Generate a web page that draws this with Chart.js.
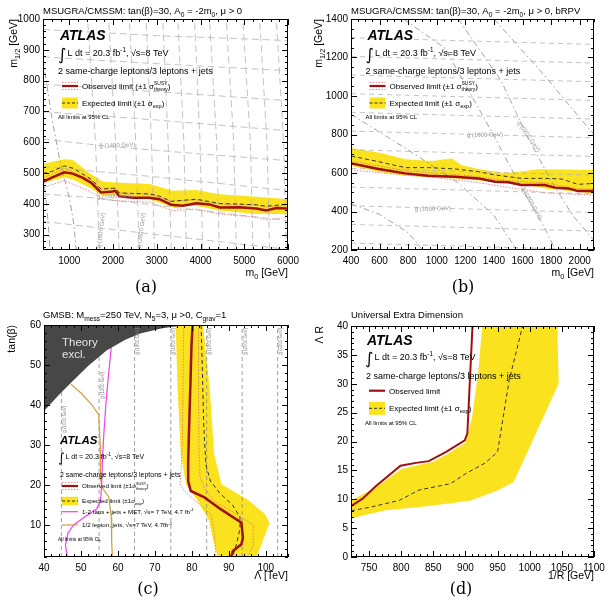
<!DOCTYPE html>
<html>
<head>
<meta charset="utf-8">
<script src="https://cdn.jsdelivr.net/npm/chart.js@4/dist/chart.umd.min.js"></script>
<style>
  body { margin: 0; background: #fff; width: 611px; height: 607px; position: relative; overflow: hidden; }
  canvas { position: absolute; }
  .cap { position: absolute; font: 16px "DejaVu Serif", serif; transform: translate(-50%, -50%); color: #000; }
</style>
</head>
<body>
<canvas id="ca" width="305" height="300" style="left:0;top:0;width:305px;height:300px"></canvas>
<canvas id="cb" width="306" height="300" style="left:305px;top:0;width:306px;height:300px"></canvas>
<canvas id="cc" width="305" height="307" style="left:0;top:300px;width:305px;height:307px"></canvas>
<canvas id="cd" width="306" height="307" style="left:305px;top:300px;width:306px;height:307px"></canvas>
<div class="cap" style="left:146px;top:286px">(a)</div>
<div class="cap" style="left:463px;top:286px">(b)</div>
<div class="cap" style="left:148px;top:588px">(c)</div>
<div class="cap" style="left:461px;top:588px">(d)</div>
<script>
// ---------- (a) MSUGRA/CMSSM ----------
const aTicksX = [1000, 2000, 3000, 4000, 5000, 6000];
const aTicksY = [300, 400, 500, 600, 700, 800, 900, 1000];
const aObsM0 = [400, 600, 885, 1076, 1300, 1497, 1726, 1992, 2053, 2145, 2450, 2832, 3061, 3329, 3596, 3901, 4206, 4435, 4893, 5275, 5504, 5733, 6000];
const aObsM12 = [471, 485, 502, 498, 485, 469, 437, 440, 442, 424, 420, 420, 415, 397, 394, 402, 398, 388, 389, 385, 378, 386, 385];
const aExpM0 = [400, 600, 885, 1100, 1497, 1726, 1992, 2053, 2145, 2832, 3061, 3329, 3901, 4435, 5275, 5504, 6000];
const aExpM12 = [498, 505, 523, 515, 480, 448, 450, 451, 435, 432, 425, 408, 415, 401, 397, 392, 399];
const aBandM0 = [400, 885, 1076, 1458, 1763, 2069, 2832, 3366, 3901, 4435, 5275, 6000];
const aBandHi = [530, 545, 543, 500, 472, 469, 464, 442, 445, 431, 423, 415];
const aBandLo = [468, 485, 480, 453, 426, 426, 415, 389, 394, 378, 367, 367];
const aThUpM0 = [400, 885, 1458, 1726, 1992, 2145, 2832, 3329, 3901, 4435, 5275, 5504, 6000];
const aThUpM12 = [484, 514, 481, 448, 452, 436, 431, 408, 413, 399, 396, 389, 396];
const aThDnM0 = [400, 885, 1458, 1763, 2069, 2832, 3366, 3901, 4435, 5275, 5504, 6000];
const aThDnM12 = [453, 475, 442, 415, 410, 405, 378, 383, 367, 356, 348, 356];
// gluino / squark mass contours [m0, m12]
const aGluino = [
  [[400, 343], [3000, 300], [6000, 252]],
  [[400, 432], [1500, 420], [3000, 395], [6000, 345]],
  [[400, 521], [3000, 487], [6000, 443]],
  [[400, 610], [2000, 585], [4000, 562], [6000, 540]],
  [[400, 699], [3000, 672], [6000, 637]],
  [[400, 788], [3000, 764], [6000, 735]],
  [[400, 877], [3000, 855], [6000, 832]],
  [[400, 966], [3000, 946], [6000, 930]]
];
const aSquark = [
  [[1690, 250], [1600, 600], [1420, 1000]],
  [[2140, 250], [2060, 600], [1900, 1000]],
  [[2600, 250], [2520, 600], [2374, 1000]],
  [[2950, 250], [2880, 600], [2756, 1000]],
  [[3330, 250], [3260, 600], [3137, 1000]],
  [[3680, 250], [3620, 600], [3480, 1000]],
  [[4050, 250], [3990, 600], [3862, 1000]],
  [[4430, 250], [4370, 600], [4206, 1000]],
  [[4820, 250], [4760, 600], [4588, 1000]],
  [[5200, 250], [5140, 600], [4968, 1000]],
  [[5580, 250], [5520, 600], [5351, 1000]],
  [[5960, 250], [5900, 600], [5733, 1000]]
];
const aCurves = [
  [[400, 870], [600, 680], [800, 530], [1000, 420], [1100, 340], [1160, 250]],
  [[400, 500], [480, 400], [540, 300], [560, 250]]
];

// ---------- (b) MSUGRA/CMSSM bRPV ----------
const bTicksX = [400, 600, 800, 1000, 1200, 1400, 1600, 1800, 2000];
const bTicksY = [200, 400, 600, 800, 1000, 1200, 1400];
const bObsM0 = [402, 593, 779, 942, 1128, 1291, 1407, 1500, 1593, 1756, 1826, 1919, 1988, 2100];
const bObsM12 = [650, 621, 598, 586, 581, 572, 555, 552, 538, 538, 524, 520, 506, 506];
const bExpM0 = [402, 593, 779, 942, 1128, 1291, 1407, 1593, 1756, 1872, 1988, 2100];
const bExpM12 = [688, 659, 628, 628, 621, 607, 590, 572, 572, 569, 541, 546];
const bBandHiM0 = [400, 600, 780, 965, 1105, 1175, 1300, 1477, 1593, 1709, 1900, 2100];
const bBandHi = [730, 705, 672, 662, 675, 640, 620, 600, 608, 620, 618, 615];
const bBandLoM0 = [400, 593, 779, 1128, 1407, 1593, 1756, 1988, 2100];
const bBandLo = [638, 607, 586, 572, 555, 546, 520, 503, 494];
const bThUpM0 = [400, 800, 1200, 1500, 1760, 2000, 2100];
const bThUpM12 = [662, 610, 588, 560, 548, 516, 516];
const bThDnM0 = [400, 700, 1000, 1291, 1500, 1760, 2000, 2100];
const bThDnM12 = [616, 595, 575, 550, 525, 497, 488, 486];
const bGluino = [
  [[400, 236], [2100, 201]], [[400, 333], [2100, 298]], [[400, 430], [2100, 395]],
  [[400, 527], [2100, 492]], [[400, 624], [2100, 589]], [[400, 721], [2100, 686]],
  [[400, 818], [2100, 783]], [[400, 915], [2100, 880]], [[400, 1012], [2100, 977]],
  [[400, 1109], [2100, 1074]], [[400, 1206], [2100, 1171]], [[400, 1303], [2100, 1268]]
];
const bCurves = [
  [[400, 440], [600, 385], [800, 290], [900, 200]],
  [[400, 905], [800, 720], [1150, 548], [1400, 380], [1560, 200]],
  [[767, 1400], [1058, 1248], [1384, 815], [1569, 555], [1756, 313], [1830, 200]],
  [[1150, 1400], [1450, 1080], [1640, 780], [1800, 560], [1950, 380], [2100, 250]],
  [[1400, 1400], [1750, 1110], [1940, 940], [2100, 800]]
];

// ---------- (c) GMSB ----------
const cTicksX = [40, 50, 60, 70, 80, 90, 100];
const cTicksY = [10, 20, 30, 40, 50, 60];
const cObsLam = [80.2, 79.9, 79.6, 79.3, 79.0, 79.0, 79.7, 83.4, 87.9, 93.4, 93.8, 93.4, 91.1, 90.6];
const cObsTan = [60, 55, 45, 36, 26, 21, 18.5, 16.9, 13.9, 10.6, 6.8, 5.2, 3.5, 2];
const cExpLam = [82.5, 82.8, 83.2, 83.8, 85, 87.5, 91, 93, 93, 92, 91];
const cExpTan = [60, 50, 35, 25, 21, 18, 15, 12, 9, 5, 2];
const cThUpLam = [81.8, 81.8, 81.9, 82.2, 83.5, 86, 92.5, 96.6, 96.6, 95.2];
const cThUpTan = [60, 45, 30, 22, 19, 16, 12.5, 10, 5, 2];
const cThDnLam = [77.8, 77.6, 77.4, 77.0, 76.8, 78.8, 85.2, 86.1, 86.5];
const cThDnTan = [60, 45, 30, 22, 20, 17.7, 12.7, 7.7, 2];
const cBandLLam = [75.6, 76.1, 77.0, 78.4, 81.6, 84.7, 85.6, 87.0];
const cBandLTan = [60, 44.5, 27.8, 20.2, 16, 11, 6.8, 2];
const cBandRLam = [83.0, 84.8, 86.0, 88.0, 95.0, 99.7, 101.0, 99.5, 97.5];
const cBandRTan = [60, 44.5, 27.8, 20.2, 16.4, 12.8, 10.5, 6.8, 2];
const cTheoryLam = [40, 44, 48, 52, 57, 62, 66, 72, 78.5];
const cTheoryTan = [38.5, 42.5, 46.2, 49.8, 53.7, 56.3, 57.9, 59.2, 60];
const cTauLam = [58.2, 57.5, 56.8, 56.2, 55.8, 55.6, 55.3, 54.2, 51, 48, 46.5, 45.8, 46.3];
const cTauTan = [54.5, 48, 41, 33, 26, 20, 16, 14, 12, 10, 8, 5, 2];
const cLepLam = [47.3, 50, 53, 54.8, 55.2, 55.3, 55.6, 57.5, 58.2, 58.3, 58.5];
const cLepTan = [45.2, 43, 40, 37.5, 30, 22, 19.5, 17, 12, 6, 2];
const cGluinoLam = [44.7, 54.9, 64.5, 74.3, 84.0, 93.6, 103.2];
const cGluinoMass = [1000, 1200, 1400, 1600, 1800, 2000, 2200];

// ---------- (d) UED ----------
const dTicksX = [750, 800, 850, 900, 950, 1000, 1050, 1100];
const dTicksY = [0, 5, 10, 15, 20, 25, 30, 35, 40];
const dObsX = [722, 740, 760, 799, 823, 843, 870, 899, 903, 911];
const dObsY = [8.8, 10.1, 12.2, 15.8, 16.3, 16.6, 18.2, 20.2, 21.4, 40];
const dExpX = [722, 755, 797, 828, 877, 900, 931, 950, 968, 989];
const dExpY = [8.0, 8.7, 9.8, 11.6, 12.7, 14.4, 16.3, 18.2, 30.6, 40];
const dBandUpX = [722, 760, 800, 830, 850, 875, 900, 910, 920, 926];
const dBandUpY = [9.8, 12, 15.2, 16, 16.5, 18, 19.8, 24, 32, 40];
const dBandLoX = [722, 776, 833, 877, 908, 950, 975, 1012, 1045, 1043];
const dBandLoY = [6.7, 8.1, 8.7, 9.3, 9.8, 11.5, 13, 22, 30, 40];

// ---------- colours ----------
const YELLOW = '#fbe21f', RED = '#a01010', PINK = '#e07070', GREY = '#b4b4b4', GREYD = '#8a8a8a';
const MAGENTA = '#f040f0', ORANGE = '#d0a040', THEORY = '#474747';
const FONT = 'Liberation Sans';

const pts = (xs, ys) => xs.map((x, i) => ({ x, y: ys[i] }));
const pairs = arr => arr.map(p => ({ x: p[0], y: p[1] }));
const line = (data, color, width, dash, order) =>
  ({ data, showLine: true, borderColor: color, borderWidth: width, borderDash: dash || [], pointRadius: 0, fill: false, order });
const poly = (data, color, order) =>
  ({ data, showLine: true, borderWidth: 0, borderColor: 'rgba(0,0,0,0)', backgroundColor: color, fill: 'shape', pointRadius: 0, order });

// tiny rich-text: _{sub} ^{sup} ^_{sup|sub}
function parseRich(s) {
  const out = []; let i = 0, buf = '';
  while (i < s.length) {
    let k = null;
    if (s.startsWith('^_{', i)) { k = 'ss'; i += 3; }
    else if (s.startsWith('_{', i)) { k = 'sub'; i += 2; }
    else if (s.startsWith('^{', i)) { k = 'sup'; i += 2; }
    if (k) {
      if (buf) { out.push(['n', buf]); buf = ''; }
      const j = s.indexOf('}', i);
      out.push([k, s.slice(i, j)]); i = j + 1;
    } else buf += s[i++];
  }
  if (buf) out.push(['n', buf]);
  return out;
}
function richText(ctx, s, x, y, size, opt) {
  opt = opt || {};
  const fam = opt.family || FONT, wt = opt.weight || '';
  const f = sz => `${wt} ${sz}px "${fam}"`;
  const parts = parseRich(s);
  let w = 0;
  const ws = parts.map(([k, t]) => {
    let pw;
    if (k === 'n') { ctx.font = f(size); pw = ctx.measureText(t).width; }
    else if (k === 'ss') { ctx.font = f(size * 0.62); const [a, b] = t.split('|'); pw = Math.max(ctx.measureText(a).width, ctx.measureText(b).width); }
    else { ctx.font = f(size * 0.7); pw = ctx.measureText(t).width; }
    w += pw; return pw;
  });
  let cx = opt.align === 'right' ? x - w : opt.align === 'center' ? x - w / 2 : x;
  ctx.fillStyle = opt.color || '#000';
  ctx.textAlign = 'left'; ctx.textBaseline = 'alphabetic';
  parts.forEach(([k, t], i) => {
    if (k === 'n') { ctx.font = f(size); ctx.fillText(t, cx, y); }
    else if (k === 'sub') { ctx.font = f(size * 0.7); ctx.fillText(t, cx, y + size * 0.28); }
    else if (k === 'sup') { ctx.font = f(size * 0.7); ctx.fillText(t, cx, y - size * 0.42); }
    else { ctx.font = f(size * 0.62); const [a, b] = t.split('|'); ctx.fillText(a, cx, y - size * 0.45); ctx.fillText(b, cx, y + size * 0.3); }
    cx += ws[i];
  });
  return w;
}
function rotText(ctx, s, x, y, size, ang, opt) {
  ctx.save(); ctx.translate(x, y); ctx.rotate(ang); richText(ctx, s, 0, 0, size, opt); ctx.restore();
}

// frame with inward major/minor ticks on all four sides
function frame(chart, mx, my) {
  const { ctx, chartArea: a, scales: { x, y } } = chart;
  ctx.save();
  ctx.strokeStyle = '#000'; ctx.lineWidth = 1;
  ctx.strokeRect(a.left + 0.5, a.top + 0.5, a.right - a.left - 1, a.bottom - a.top - 1);
  ctx.beginPath();
  const majX = x.ticks.map(t => t.value), majY = y.ticks.map(t => t.value);
  for (let n = Math.ceil(x.min / mx - 1e-9); n * mx <= x.max + 1e-9; n++) {
    const v = n * mx, L = majX.some(m => Math.abs(m - v) < mx / 10) ? 6 : 3;
    const p = Math.round(x.getPixelForValue(v)) + 0.5;
    ctx.moveTo(p, a.bottom); ctx.lineTo(p, a.bottom - L);
    ctx.moveTo(p, a.top); ctx.lineTo(p, a.top + L);
  }
  for (let n = Math.ceil(y.min / my - 1e-9); n * my <= y.max + 1e-9; n++) {
    const v = n * my, L = majY.some(m => Math.abs(m - v) < my / 10) ? 6 : 3;
    const p = Math.round(y.getPixelForValue(v)) + 0.5;
    ctx.moveTo(a.left, p); ctx.lineTo(a.left + L, p);
    ctx.moveTo(a.right, p); ctx.lineTo(a.right - L, p);
  }
  ctx.stroke(); ctx.restore();
}

// ATLAS label + legend block
function atlasBlock(ctx, b) {
  const x0 = b.x0;
  ctx.save();
  ctx.fillStyle = '#000'; ctx.textAlign = 'left'; ctx.textBaseline = 'alphabetic';
  ctx.font = `italic bold ${b.atlasSize}px "${FONT}"`;
  ctx.fillText('ATLAS', x0 + 2, b.atlasY);
  ctx.font = `${b.size * 1.8}px "DejaVu Sans"`;
  ctx.fillText('∫', x0, b.intY + b.size * 0.45);
  richText(ctx, 'L dt = 20.3 fb^{-1}, √s=8 TeV', x0 + b.size + 0.5, b.intY, b.size);
  richText(ctx, '2 same-charge leptons/3 leptons + jets', x0 + (b.l2dx || 0), b.line2Y, b.size);
  const s0 = x0 + 4, s1 = x0 + 20;
  b.rows.forEach(r => {
    ctx.save();
    if (r.k === 'exp') {
      ctx.fillStyle = YELLOW; ctx.fillRect(s0, r.y - b.boxH, s1 - s0, 2 * b.boxH);
      ctx.strokeStyle = '#333'; ctx.lineWidth = 1; ctx.setLineDash([3, 2]);
      ctx.beginPath(); ctx.moveTo(s0, r.y); ctx.lineTo(s1, r.y); ctx.stroke();
    } else if (r.k === 'obs' || r.k === 'obsTh') {
      if (r.k === 'obsTh') {
        ctx.strokeStyle = PINK; ctx.lineWidth = 0.8; ctx.setLineDash([1.5, 1.5]);
        ctx.beginPath(); ctx.moveTo(s0, r.y - 3.5); ctx.lineTo(s1, r.y - 3.5);
        ctx.moveTo(s0, r.y + 3.5); ctx.lineTo(s1, r.y + 3.5); ctx.stroke();
      }
      ctx.setLineDash([]); ctx.strokeStyle = RED; ctx.lineWidth = 2.2;
      ctx.beginPath(); ctx.moveTo(s0, r.y); ctx.lineTo(s1, r.y); ctx.stroke();
    } else {
      ctx.strokeStyle = r.k === 'mag' ? MAGENTA : ORANGE; ctx.lineWidth = 1.2;
      ctx.beginPath(); ctx.moveTo(s0, r.y); ctx.lineTo(s1, r.y); ctx.stroke();
    }
    ctx.restore();
    richText(ctx, r.t, x0 + 24, r.y + b.legSize * 0.35, b.legSize);
  });
  richText(ctx, 'All limits at 95% CL', x0, b.noteY, b.noteSize);
  ctx.restore();
}

function axisOpts(ax, pad, fit) {
  return {
    type: 'linear', min: ax.min, max: ax.max,
    grid: { display: false, drawTicks: false, tickLength: 0 }, border: { display: false },
    afterBuildTicks: s => { s.ticks = ax.ticks.map(v => ({ value: v })); },
    afterFit: fit,
    ticks: { color: '#000', font: { family: FONT, size: 10 }, padding: pad, autoSkip: false, maxRotation: 0, callback: v => String(v) }
  };
}
function makePanel(id, box, ax, ay, datasets, deco) {
  return new Chart(document.getElementById(id), {
    type: 'scatter',
    data: { datasets },
    options: {
      responsive: false, animation: false, events: [],
      layout: { padding: { left: 0, top: box.top, right: box.w - box.right, bottom: 0 } },
      elements: { point: { radius: 0 }, line: { tension: 0 } },
      plugins: { legend: { display: false }, tooltip: { enabled: false } },
      scales: {
        x: axisOpts(ax, 5, s => { s.height = box.h - box.bottom; }),
        y: axisOpts(ay, 3, s => { s.width = box.left; })
      }
    },
    plugins: [{ id: 'deco_' + id, afterDatasetsDraw(chart) { frame(chart, ax.minor, ay.minor); deco(chart.ctx, chart); } }]
  });
}
const band = (ux, uy, lx, ly) => pts(ux, uy).concat(pts(lx, ly).reverse());

// ---------- panel (a) ----------
makePanel('ca', { w: 305, h: 300, left: 43, right: 288, top: 19, bottom: 250 },
  { min: 400, max: 6000, ticks: aTicksX, minor: 200 },
  { min: 250, max: 1000, ticks: aTicksY, minor: 20 },
  [
    line(pts(aObsM0, aObsM12), RED, 2.5, [], 1),
    line(pts(aThUpM0, aThUpM12), PINK, 0.8, [1.5, 1.5], 3),
    line(pts(aThDnM0, aThDnM12), PINK, 0.8, [1.5, 1.5], 3),
    line(pts(aExpM0, aExpM12), '#333', 1, [4, 3], 2),
    ...aGluino.map(c => line(pairs(c), GREY, 0.8, [7, 4], 8)),
    ...aSquark.map(c => line(pairs(c), GREY, 0.8, [7, 4], 8)),
    ...aCurves.map(c => line(pairs(c), GREYD, 0.8, [6, 3, 1.5, 3], 8)),
    poly(band(aBandM0, aBandHi, aBandM0, aBandLo), YELLOW, 10)
  ],
  (ctx, ch) => {
    const X = v => ch.scales.x.getPixelForValue(v), Y = v => ch.scales.y.getPixelForValue(v);
    richText(ctx, 'MSUGRA/CMSSM: tan(β)=30, A_{0} = -2m_{0}, μ > 0', 43, 14, 9.5);
    richText(ctx, 'm_{0} [GeV]', 288, 276, 10.5, { align: 'right' });
    rotText(ctx, 'm_{1/2} [GeV]', 17, 19, 10.5, -Math.PI / 2, { align: 'right' });
    rotText(ctx, 'g̃ (1400 GeV)', X(1690), Y(582), 6, -0.04, { color: '#999' });
    rotText(ctx, 'g̃ (1000 GeV)', X(1640), Y(416), 6, -0.05, { color: '#999' });
    rotText(ctx, 'q̃ (1600 GeV)', X(1720), Y(255), 6, -1.45, { color: '#999' });
    rotText(ctx, 'q̃ (2600 GeV)', X(2640), Y(255), 6, -1.45, { color: '#999' });
    atlasBlock(ctx, { x0: 58, atlasY: 40, atlasSize: 14, intY: 56, size: 9, line2Y: 73.5, legSize: 8, boxH: 5.5, noteY: 118.5, noteSize: 6,
      rows: [{ y: 86, k: 'obsTh', t: 'Observed limit (±1 σ^_{SUSY|theory})' }, { y: 103, k: 'exp', t: 'Expected limit (±1 σ_{exp})' }] });
  });

// ---------- panel (b) ----------
makePanel('cb', { w: 306, h: 300, left: 46, right: 289, top: 19, bottom: 250 },
  { min: 400, max: 2100, ticks: bTicksX, minor: 50 },
  { min: 200, max: 1400, ticks: bTicksY, minor: 50 },
  [
    line(pts(bObsM0, bObsM12), RED, 2.5, [], 1),
    line(pts(bThUpM0, bThUpM12), PINK, 0.8, [1.5, 1.5], 3),
    line(pts(bThDnM0, bThDnM12), PINK, 0.8, [1.5, 1.5], 3),
    line(pts(bExpM0, bExpM12), '#333', 1, [4, 3], 2),
    ...bGluino.map(c => line(pairs(c), GREY, 0.8, [5, 4], 8)),
    ...bCurves.map(c => line(pairs(c), GREYD, 0.8, [6, 3, 1.5, 3], 8)),
    poly(band(bBandHiM0, bBandHi, bBandLoM0, bBandLo), YELLOW, 10)
  ],
  (ctx, ch) => {
    const X = v => ch.scales.x.getPixelForValue(v), Y = v => ch.scales.y.getPixelForValue(v);
    richText(ctx, 'MSUGRA/CMSSM: tan(β)=30, A_{0} = -2m_{0}, μ > 0, bRPV', 46, 14, 9.5);
    richText(ctx, 'm_{0} [GeV]', 289, 276, 10.5, { align: 'right' });
    rotText(ctx, 'm_{1/2} [GeV]', 17, 19, 10.5, -Math.PI / 2, { align: 'right' });
    rotText(ctx, 'g̃ (1600 GeV)', X(1211), Y(787), 6, -0.02, { color: '#999' });
    rotText(ctx, 'g̃ (1000 GeV)', X(848), Y(403), 6, -0.02, { color: '#999' });
    rotText(ctx, 'q̃ (2200 GeV)', X(1560), Y(860), 6, 0.95, { color: '#999' });
    rotText(ctx, 'q̃ (1800 GeV)', X(1590), Y(520), 6, 1.05, { color: '#999' });
    atlasBlock(ctx, { x0: 60.5, atlasY: 40, atlasSize: 14, intY: 56, size: 9, line2Y: 73.5, legSize: 8, boxH: 5.5, noteY: 118.5, noteSize: 6,
      rows: [{ y: 86, k: 'obsTh', t: 'Observed limit (±1 σ^_{SUSY|theory})' }, { y: 103, k: 'exp', t: 'Expected limit (±1 σ_{exp})' }] });
  });

// ---------- panel (c) ----------
const cAx = { min: 40, max: 106, ticks: cTicksX, minor: 2 };
const cAy = { min: 2, max: 60, ticks: cTicksY, minor: 2 };
makePanel('cc', { w: 305, h: 307, left: 44, right: 288, top: 25, bottom: 257 },
  cAx, cAy,
  [
    poly(pts(cTheoryLam, cTheoryTan).concat([{ x: cAx.min, y: cAy.max }]), THEORY, 0),
    line(pts(cObsLam, cObsTan), RED, 2.5, [], 1),
    line(pts(cTauLam, cTauTan), MAGENTA, 1.2, [], 1),
    line(pts(cLepLam, cLepTan), ORANGE, 1.2, [], 1),
    line(pts(cThUpLam, cThUpTan), PINK, 0.8, [1.5, 1.5], 3),
    line(pts(cThDnLam, cThDnTan), PINK, 0.8, [1.5, 1.5], 3),
    line(pts(cExpLam, cExpTan), '#333', 1, [4, 3], 2),
    ...cGluinoLam.map(l => line(pts([l, l], [cAy.min, cAy.max]), GREYD, 0.8, [4, 3], 8)),
    poly(band(cBandLLam, cBandLTan, cBandRLam, cBandRTan), YELLOW, 10)
  ],
  (ctx, ch) => {
    const X = v => ch.scales.x.getPixelForValue(v), Y = v => ch.scales.y.getPixelForValue(v);
    richText(ctx, 'GMSB: M_{mess}=250 TeV, N_{5}=3, μ >0, C_{grav}=1', 43, 18, 9.5);
    richText(ctx, 'Λ [TeV]', 288, 279, 10.5, { align: 'right' });
    rotText(ctx, 'tan(β)', 15, 25, 10.5, -Math.PI / 2, { align: 'right' });
    const tops = [39.8, 48.3, 59.3, 59.3, 59.3, 59.3, 59.3];
    cGluinoLam.forEach((l, i) => rotText(ctx, `g̃ (${cGluinoMass[i]} GeV)`, X(l) + 4.5, Y(tops[i]), 4.5, -Math.PI / 2, { align: 'right', color: '#888' }));
    richText(ctx, 'Theory', 62, 46, 11.5, { color: '#e4e4e4' });
    richText(ctx, 'excl.', 62, 57.5, 11.5, { color: '#e4e4e4' });
    atlasBlock(ctx, { x0: 58, atlasY: 143.5, atlasSize: 11.5, intY: 158.5, size: 7, line2Y: 176.5, l2dx: 2, legSize: 6.2, boxH: 4.2, noteY: 240.5, noteSize: 5,
      rows: [
        { y: 186, k: 'obsTh', t: 'Observed limit (±1σ^_{SUSY|theory})' },
        { y: 201, k: 'exp', t: 'Expected limit (±1σ_{exp})' },
        { y: 211.7, k: 'mag', t: '1-2 taus + jets + MET, √s= 7 TeV, 4.7 fb^{-1}' },
        { y: 225, k: 'ora', t: '1/2 lepton, jets, √s=7 TeV, 4.7fb^{-1}' }
      ] });
  });

// ---------- panel (d) ----------
makePanel('cd', { w: 306, h: 307, left: 46, right: 289, top: 26, bottom: 257 },
  { min: 722, max: 1100, ticks: dTicksX, minor: 10 },
  { min: 0, max: 40, ticks: dTicksY, minor: 1 },
  [
    line(pts(dObsX, dObsY), RED, 2, [], 1),
    line(pts(dExpX, dExpY), '#333', 1, [4, 3], 2),
    poly(band(dBandUpX, dBandUpY, dBandLoX, dBandLoY), YELLOW, 10)
  ],
  (ctx) => {
    richText(ctx, 'Universal Extra Dimension', 46, 18, 9.5);
    richText(ctx, '1/R [GeV]', 289, 279, 10.5, { align: 'right' });
    rotText(ctx, 'Λ R', 18, 26, 10.5, -Math.PI / 2, { align: 'right' });
    atlasBlock(ctx, { x0: 60, atlasY: 45, atlasSize: 14, intY: 60, size: 9, line2Y: 79, l2dx: 1, legSize: 8, boxH: 6.5, noteY: 125, noteSize: 6,
      rows: [{ y: 90.7, k: 'obs', t: 'Observed limit' }, { y: 108.3, k: 'exp', t: 'Expected limit (±1 σ_{exp})' }] });
  });
</script>
</body>
</html>
